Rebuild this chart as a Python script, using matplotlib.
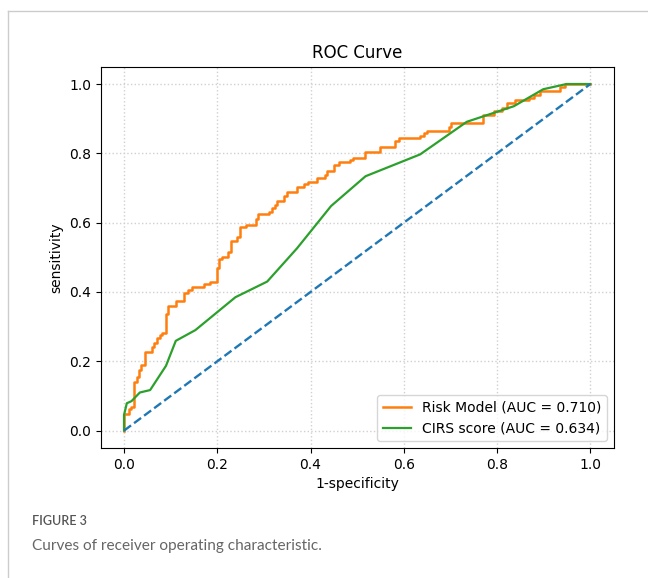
import matplotlib.pyplot as plt

# Risk Model ROC: step corners (fpr at end of flat run, tpr level)
risk_fpr = [0.000, 0.011, 0.016, 0.022, 0.028, 0.032, 0.037, 0.044, 0.059, 0.065,
            0.071, 0.077, 0.082, 0.090, 0.094, 0.111, 0.128, 0.137, 0.146, 0.171,
            0.184, 0.199, 0.204, 0.210, 0.222, 0.229, 0.243, 0.249, 0.262, 0.282,
            0.287, 0.310, 0.318, 0.323, 0.328, 0.343, 0.349, 0.372, 0.386, 0.394,
            0.414, 0.430, 0.436, 0.451, 0.460, 0.484, 0.491, 0.517, 0.550, 0.581,
            0.589, 0.634, 0.644, 0.650, 0.696, 0.701, 0.770, 0.793, 0.811, 0.821,
            0.839, 0.868, 0.879, 0.893, 0.936, 0.946, 1.000]
risk_tpr = [0.000, 0.048, 0.062, 0.069, 0.141, 0.156, 0.175, 0.188, 0.227, 0.242,
            0.252, 0.266, 0.276, 0.283, 0.337, 0.361, 0.375, 0.398, 0.406, 0.415,
            0.423, 0.430, 0.468, 0.495, 0.502, 0.516, 0.548, 0.560, 0.587, 0.593,
            0.610, 0.625, 0.632, 0.641, 0.651, 0.663, 0.677, 0.688, 0.704, 0.711,
            0.718, 0.728, 0.738, 0.750, 0.766, 0.774, 0.781, 0.788, 0.803, 0.819,
            0.835, 0.843, 0.851, 0.858, 0.865, 0.875, 0.888, 0.912, 0.922, 0.930,
            0.944, 0.954, 0.961, 0.967, 0.980, 0.992, 1.000]

# CIRS score ROC
cirs_fpr = [0.000, 0.000, 0.006, 0.016, 0.034, 0.056, 0.090, 0.111, 0.153, 0.239,
            0.307, 0.371, 0.444, 0.518, 0.635, 0.735, 0.836, 0.899, 0.949, 1.000]
cirs_tpr = [0.000, 0.045, 0.079, 0.085, 0.110, 0.117, 0.187, 0.259, 0.290, 0.385,
            0.430, 0.526, 0.648, 0.734, 0.797, 0.891, 0.936, 0.985, 1.000, 1.000]

risk_label = "Risk Model (AUC = 0.710)"
cirs_label = "CIRS score (AUC = 0.634)"

fig = plt.figure(figsize=(6.48, 5.78), dpi=100)
ax = fig.add_axes([0.1554, 0.225, 0.7916, 0.6596])

ax.plot(risk_fpr, risk_tpr, drawstyle="steps-pre", color="tab:orange", lw=1.8, label=risk_label)
ax.plot(cirs_fpr, cirs_tpr, color="tab:green", lw=1.6, label=cirs_label)
ax.plot([0, 1], [0, 1], color="tab:blue", lw=1.7, ls="--")

ax.grid(True, color="#d0d0d0", ls=":", lw=1)
ax.set_title("ROC Curve", fontsize=12)
ax.set_xlabel("1-specificity")
ax.set_ylabel("sensitivity")
ax.legend(loc="lower right")

# page frame and caption
fig.add_artist(plt.Line2D([8 / 648, 1], [1 - 11 / 578, 1 - 11 / 578], color="#cccccc", lw=1, transform=fig.transFigure))
fig.add_artist(plt.Line2D([8 / 648, 8 / 648], [0, 1 - 11 / 578], color="#cccccc", lw=1, transform=fig.transFigure))
fig.text(32 / 648, 1 - 521 / 578, "FIGURE 3", fontsize=9.0, color="#555555",
         family="Lato", fontweight="semibold", va="center")
fig.text(32 / 648, 1 - 546 / 578, "Curves of receiver operating characteristic.", fontsize=11.1,
         color="#666666", family="Lato", va="center")

fig.savefig("out.png", dpi=100)
